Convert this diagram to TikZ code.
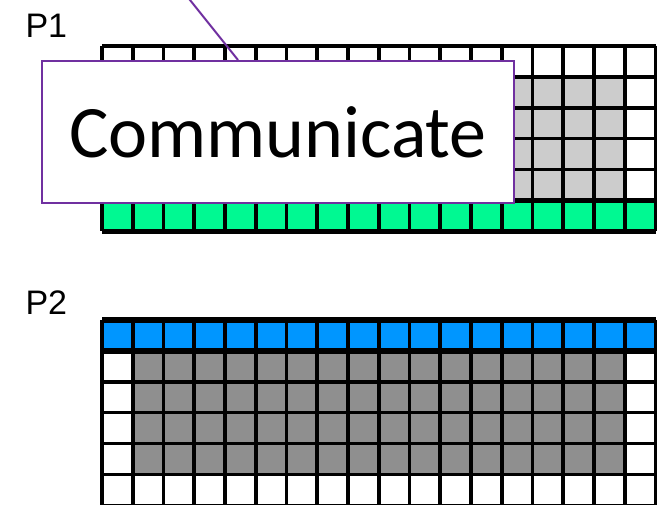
\documentclass[tikz,border=0pt]{standalone}
\usepackage{fontspec}
\setmainfont{Liberation Sans}
\newfontfamily\calloutfont{Carlito}
\usetikzlibrary{positioning}
\definecolor{haloc}{HTML}{00F992}
\definecolor{ghostc}{HTML}{0096FF}
\definecolor{recvc}{HTML}{CCCCCC}
\definecolor{ownc}{HTML}{8F8F8F}
\definecolor{msgc}{HTML}{7030A0}
\newcommand{\cellw}{30.75}
\newcommand{\cellh}{30.9}

\begin{document}
\begin{tikzpicture}[x=1pt,y=1pt,
  gridline/.style={black, line width=3.6pt},
  sepline/.style={black, line width=5.5pt},
  msgbox/.style={draw=msgc, line width=2pt, fill=white, inner sep=0pt,
    font=\calloutfont\fontsize{74}{80}\selectfont},
  rank/.style={anchor=base west, font=\fontsize{34}{40}\selectfont}]
\useasboundingbox (0,0) rectangle (659,505);
\clip (0,0) rectangle (659,505);

% P1: interior rows and halo row at the bottom
\node[rank] (p1) at (22,467) {P1};
\fill[recvc] (102+\cellw,459-\cellh) rectangle (102+17*\cellw,459-5*\cellh);
\fill[haloc] (102,459-5*\cellh) rectangle (102+18*\cellw,459-6*\cellh);
\foreach \i in {0,...,18}{
  \draw[gridline] (102+\i*\cellw,459) -- (102+\i*\cellw,459-6*\cellh);
}
\foreach \j in {0,...,6}{
  \draw[gridline] (102,459-\j*\cellh) -- (102+18*\cellw,459-\j*\cellh);
}
\draw[sepline] (102,459-5*\cellh) -- (102+18*\cellw,459-5*\cellh);
\draw[sepline] (102,459-6*\cellh) -- (102+18*\cellw,459-6*\cellh);

% P2: ghost row on top, owned block below
\node[rank] (p2) at (22,190) {P2};
\fill[ghostc] (102,185) rectangle (102+18*\cellw,185-\cellh);
\fill[ownc] (102+\cellw,185-\cellh) rectangle (102+17*\cellw,185-5*\cellh);
\foreach \i in {0,...,18}{
  \draw[gridline] (102+\i*\cellw,185) -- (102+\i*\cellw,185-7*\cellh);
}
\foreach \j in {0,...,6}{
  \draw[gridline] (102,185-\j*\cellh) -- (102+18*\cellw,185-\j*\cellh);
}
\draw[sepline] (102,185) -- (102+18*\cellw,185);
\draw[sepline] (102,185-\cellh) -- (102+18*\cellw,185-\cellh);

% callout over P1
\node[msgbox, minimum width=472pt, minimum height=142pt] (msg) at (278,373) {Communicate};
\coordinate (tail) at (158,545);
\draw[msgc, line width=2pt] ([xshift=197pt]msg.north west) -- (tail);
\end{tikzpicture}
\end{document}
